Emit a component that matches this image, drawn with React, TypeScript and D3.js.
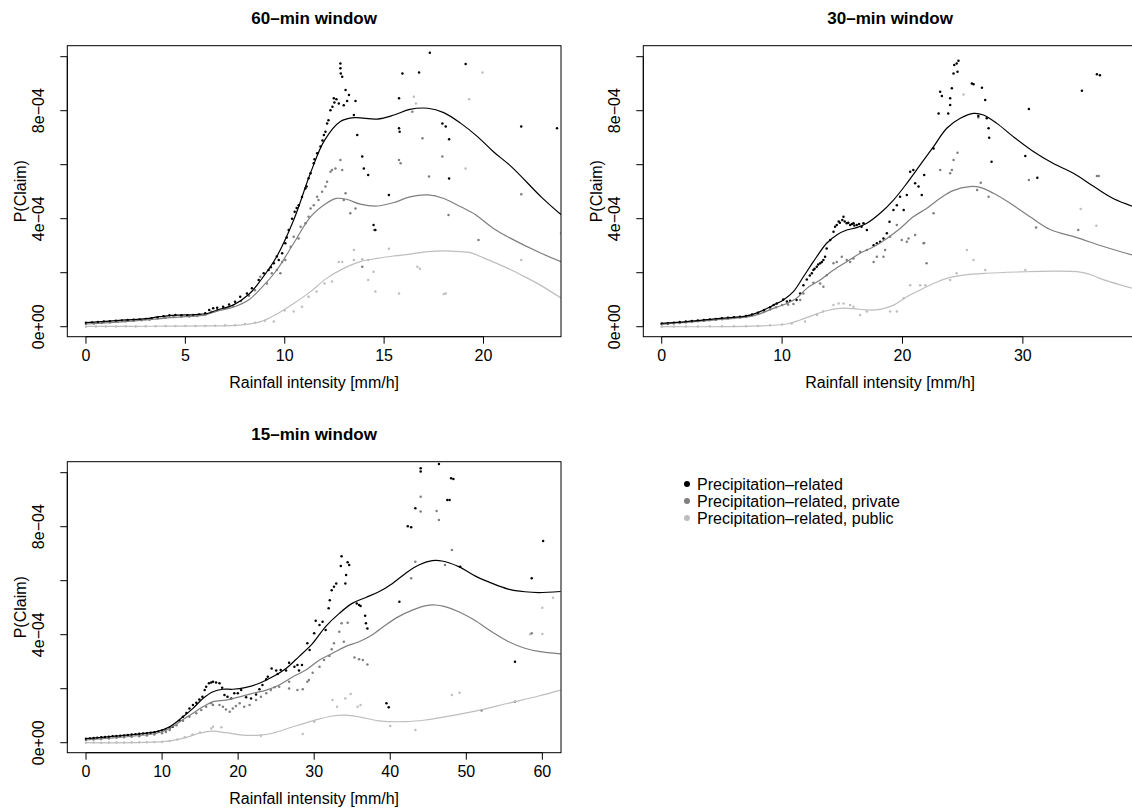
import * as d3 from 'd3';

// values in units of 1e-4 (P(Claim)), x in mm/h
const seriesNames = ['Precipitation–related', 'Precipitation–related, private', 'Precipitation–related, public'];
const seriesColors = ['#000000', '#7f7f7f', '#bebebe'];
const yTickValues = [0, 2, 4, 6, 8, 10];
const yTickLabels = ['0e+00', '', '4e−04', '', '8e−04', ''];

// ---- 60-min window ----
const pts60Total = [
  [0, 0.15], [0.3, 0.16], [0.6, 0.17], [0.9, 0.19], [1.2, 0.2], [1.5, 0.22], [1.8, 0.23], [2.1, 0.25], [2.4, 0.26], [2.7, 0.27],
  [3.0, 0.29], [3.3, 0.31], [3.6, 0.34], [3.9, 0.39], [4.2, 0.42], [4.5, 0.43], [4.8, 0.42], [5.1, 0.42], [5.4, 0.43], [5.7, 0.45],
  [6.0, 0.5], [6.2, 0.62], [6.4, 0.68], [6.6, 0.7], [6.9, 0.74], [7.2, 0.82], [7.5, 0.92], [7.76, 1.11], [8.1, 1.23], [8.35, 1.42],
  [8.69, 1.73], [8.94, 1.98], [9.19, 2.1], [9.3, 2.2], [9.45, 2.35], [9.6, 2.6], [9.7, 2.47], [9.87, 2.72], [10.03, 3.09], [10.1, 3.3],
  [10.2, 3.58], [10.37, 4.0], [10.5, 4.26], [10.6, 4.4], [10.7, 4.5], [10.87, 4.8], [11.04, 5.12], [11.1, 5.19], [11.2, 5.5], [11.3, 5.68],
  [11.46, 6.05], [11.5, 6.2], [11.63, 6.42], [11.8, 6.67], [11.9, 6.9], [11.97, 7.1], [12.05, 7.22], [12.13, 7.53], [12.2, 7.65], [12.3, 8.02],
  [12.4, 8.15], [12.47, 8.46], [12.5, 8.3], [12.6, 8.42], [12.72, 8.27], [12.8, 9.75], [12.8, 9.57], [12.82, 9.38], [12.89, 9.26], [12.97, 8.2],
  [13.06, 8.77], [13.14, 8.36], [13.23, 8.58], [13.48, 7.84], [13.56, 8.36], [13.65, 7.1], [13.9, 6.3], [13.98, 5.86], [14.2, 5.62], [14.47, 3.77],
  [14.56, 3.58], [15.24, 4.88], [15.75, 8.46], [15.75, 7.35], [15.78, 7.22], [15.92, 9.38], [16.76, 9.41], [17.3, 10.15], [17.93, 7.53], [18.1, 7.41],
  [18.27, 6.94], [18.27, 5.49], [19.1, 9.73], [21.9, 7.41], [23.7, 7.35],
];
const pts60Private = [
  [0, 0.1], [0.4, 0.12], [0.8, 0.14], [1.2, 0.16], [1.6, 0.18], [2.0, 0.2], [2.4, 0.22], [2.8, 0.24], [3.2, 0.26], [3.6, 0.3],
  [4.0, 0.33], [4.4, 0.36], [4.8, 0.37], [5.2, 0.38], [5.6, 0.4], [6.0, 0.45], [6.3, 0.55], [6.6, 0.62], [7.0, 0.68], [7.4, 0.78],
  [7.8, 0.95], [8.2, 1.15], [8.5, 1.35], [8.77, 1.85], [9.1, 1.6], [9.35, 1.98], [9.6, 2.1], [9.78, 1.98], [9.87, 2.4], [10.03, 2.47],
  [10.3, 2.96], [10.45, 3.33], [10.7, 3.27], [10.8, 3.7], [11.04, 3.83], [11.2, 4.07], [11.3, 4.38], [11.46, 4.5], [11.63, 4.81], [11.7, 4.69],
  [11.88, 5.0], [12.05, 5.19], [12.13, 5.37], [12.3, 5.74], [12.38, 5.8], [12.55, 5.86], [12.8, 6.17], [12.89, 5.8], [12.97, 4.69], [13.06, 4.94],
  [13.3, 4.2], [13.56, 4.38], [13.9, 2.22], [14.5, 3.58], [15.75, 6.17], [15.83, 6.05], [16.42, 7.96], [16.93, 6.98], [17.26, 5.56], [17.93, 6.3],
  [18.24, 4.14], [19.75, 3.21], [21.9, 4.91],
];
const pts60Public = [
  [0, 0.0], [0.5, 0.01], [1.0, 0.01], [1.5, 0.01], [2.0, 0.02], [2.5, 0.01], [3.0, 0.02], [3.5, 0.02], [4.0, 0.03], [4.5, 0.03],
  [5.0, 0.03], [5.5, 0.03], [6.0, 0.03], [6.5, 0.04], [7.0, 0.05], [7.5, 0.05], [8.0, 0.1], [8.5, 0.15], [9.0, 0.22], [9.45, 0.19],
  [10.0, 0.6], [10.45, 0.56], [10.87, 0.74], [11.2, 1.11], [11.6, 1.3], [12.0, 1.6], [12.38, 1.67], [12.72, 2.4], [12.89, 2.4], [13.48, 2.84],
  [13.48, 2.47], [13.9, 2.5], [14.2, 2.47], [14.47, 2.04], [14.2, 1.73], [14.56, 1.3], [15.24, 2.89], [15.75, 1.23], [16.5, 8.52], [16.6, 8.27],
  [16.67, 2.22], [16.8, 2.15], [18.0, 1.21], [18.1, 1.23], [19.1, 5.86], [19.28, 8.42], [19.95, 9.41], [21.9, 2.47], [23.9, 3.46],
];
const fit60Total = [
  [0, 0.15], [1, 0.2], [2, 0.25], [3, 0.3], [3.7, 0.37], [4.5, 0.43], [5.5, 0.45], [6.1, 0.49], [6.6, 0.62], [7.4, 0.8],
  [8.2, 1.2], [8.8, 1.73], [9.6, 2.6], [10.45, 3.95], [11.3, 5.7], [12.0, 6.9], [12.8, 7.6], [13.5, 7.74], [14.65, 7.69], [15.5, 7.84],
  [16.3, 8.05], [17.2, 8.09], [18.0, 7.93], [18.86, 7.53], [19.7, 7.04], [20.5, 6.48], [21.4, 5.93], [22.9, 4.81], [23.9, 4.15],
];
const fit60Private = [
  [0, 0.1], [1, 0.14], [2, 0.19], [3, 0.25], [4, 0.32], [5, 0.37], [6, 0.44], [6.6, 0.58], [7.4, 0.72], [8.2, 1.0],
  [8.8, 1.42], [9.6, 2.1], [10.45, 3.09], [11.3, 4.07], [12.1, 4.57], [12.6, 4.75], [13.1, 4.72], [13.8, 4.54], [14.65, 4.47], [15.5, 4.6],
  [16.3, 4.81], [17.2, 4.88], [18.0, 4.75], [18.86, 4.44], [19.6, 4.15], [20.5, 3.64], [21.3, 3.3], [22.9, 2.72], [23.9, 2.41],
];
const fit60Public = [
  [0, 0.01], [2, 0.01], [4, 0.02], [6, 0.03], [7.76, 0.06], [8.8, 0.19], [9.6, 0.47], [10.45, 0.86], [11.3, 1.3], [12.1, 1.79],
  [12.97, 2.16], [13.8, 2.41], [14.65, 2.53], [15.5, 2.62], [16.4, 2.7], [17.2, 2.78], [18.0, 2.81], [18.86, 2.78], [19.3, 2.75], [20.0, 2.55],
  [21.2, 2.17], [22.0, 1.88], [22.86, 1.54], [23.9, 1.06],
];

// ---- 30-min window ----
const pts30Total = [
  [0, 0.12], [0.5, 0.13], [1.0, 0.15], [1.5, 0.17], [2.0, 0.19], [2.5, 0.21], [3.0, 0.23], [3.5, 0.25], [4.0, 0.27], [4.5, 0.29],
  [5.0, 0.31], [5.5, 0.33], [6.0, 0.35], [6.5, 0.37], [7.0, 0.4], [7.5, 0.45], [8.0, 0.52], [8.5, 0.62], [9.0, 0.72], [9.3, 0.8],
  [9.56, 0.86], [10.1, 1.01], [10.4, 0.93], [10.66, 0.96], [11.2, 0.99], [11.5, 1.23], [11.77, 1.54], [12.05, 1.75], [12.3, 1.9], [12.47, 1.98],
  [12.6, 2.1], [12.7, 2.15], [12.88, 2.22], [13.0, 2.3], [13.16, 2.35], [13.3, 2.4], [13.43, 2.47], [13.57, 2.59], [13.7, 2.9], [14.0, 3.21],
  [14.27, 3.52], [14.4, 3.7], [14.54, 3.77], [14.7, 3.9], [14.8, 3.85], [15.0, 3.95], [15.1, 4.07], [15.2, 3.9], [15.37, 3.83], [15.5, 3.85],
  [15.65, 3.77], [15.8, 3.8], [15.93, 3.83], [16.0, 3.75], [16.2, 3.77], [16.4, 3.8], [16.6, 3.7], [16.76, 3.83], [17.04, 3.58], [17.6, 3.02],
  [17.87, 3.09], [18.14, 3.15], [18.42, 3.27], [18.7, 3.46], [18.92, 3.89], [19.25, 4.32], [19.53, 4.5], [19.8, 4.81], [20.1, 4.32], [20.36, 4.88],
  [20.64, 5.74], [20.9, 5.8], [21.05, 5.31], [21.33, 5.19], [21.6, 4.88], [21.8, 5.62], [22.58, 6.6], [23.0, 7.9], [23.13, 8.7], [23.27, 8.54],
  [23.8, 7.9], [23.96, 8.46], [23.96, 8.21], [24.1, 8.83], [24.24, 9.38], [24.3, 9.69], [24.5, 9.75], [24.65, 9.85], [24.57, 9.44], [25.76, 9.01],
  [25.9, 8.98], [26.6, 8.85], [26.87, 8.4], [26.3, 7.8], [27.0, 7.72], [27.15, 7.35], [27.2, 7.0], [27.4, 6.11], [30.2, 6.32], [30.5, 8.06],
  [31.2, 5.52], [34.9, 8.74], [36.15, 9.35], [36.4, 9.31],
];
const pts30Private = [
  [0, 0.09], [0.5, 0.1], [1.0, 0.12], [1.5, 0.14], [2.0, 0.16], [2.5, 0.18], [3.0, 0.2], [3.5, 0.22], [4.0, 0.24], [4.5, 0.26],
  [5.0, 0.28], [5.5, 0.3], [6.0, 0.32], [6.5, 0.34], [7.0, 0.37], [7.5, 0.42], [8.0, 0.48], [8.5, 0.56], [9.0, 0.64], [9.5, 0.72],
  [10.0, 0.8], [10.5, 0.82], [10.94, 0.84], [11.5, 0.99], [11.77, 1.23], [12.6, 1.63], [13.16, 1.6], [13.43, 1.48], [13.7, 1.91], [14.27, 2.35],
  [14.54, 2.4], [14.96, 2.59], [15.37, 2.47], [15.65, 2.4], [15.93, 2.53], [16.48, 2.78], [17.04, 2.84], [17.6, 2.4], [17.87, 2.59], [18.42, 2.59],
  [18.56, 2.84], [18.97, 3.33], [19.53, 3.77], [19.94, 3.21], [20.36, 3.15], [20.5, 3.27], [21.05, 3.4], [21.75, 3.09], [22.0, 2.35], [21.8, 3.1],
  [22.58, 4.2], [23.13, 5.8], [23.96, 5.68], [24.1, 5.8], [24.24, 6.17], [24.57, 6.44], [26.3, 7.75], [26.5, 5.33], [26.2, 5.06], [27.15, 4.81],
  [30.5, 5.43], [31.1, 3.67], [34.6, 3.58], [36.15, 5.58], [36.3, 5.58],
];
const pts30Public = [
  [0, 0.0], [1, 0.01], [2, 0.01], [3, 0.01], [4, 0.02], [5, 0.02], [6, 0.02], [7, 0.02], [8, 0.03], [9, 0.05],
  [10, 0.08], [10.8, 0.12], [11.9, 0.19], [12.9, 0.43], [13.4, 0.56], [14.27, 0.8], [14.7, 0.86], [15.1, 0.86], [15.65, 0.8], [15.93, 0.74],
  [16.48, 0.43], [17.04, 0.56], [18.97, 0.56], [19.53, 0.56], [20.1, 1.05], [20.64, 1.54], [21.47, 1.54], [21.9, 1.54], [23.96, 1.73], [24.5, 1.98],
  [25.07, 8.6], [25.35, 2.84], [25.9, 2.47], [26.87, 2.1], [30.2, 2.1], [34.8, 4.36], [36.1, 3.74],
];
const fit30Total = [
  [0, 0.12], [2.08, 0.19], [4.85, 0.31], [7.06, 0.4], [8.17, 0.56], [9.28, 0.8], [10.1, 0.99], [10.94, 1.3], [11.77, 1.85], [12.6, 2.41],
  [13.7, 3.09], [14.54, 3.4], [15.37, 3.58], [16.2, 3.67], [17.04, 3.83], [18.14, 4.2], [19.25, 4.69], [20.36, 5.31], [21.47, 5.99], [22.58, 6.67],
  [23.68, 7.35], [24.8, 7.72], [25.9, 7.9], [26.73, 7.84], [27.84, 7.53], [29.2, 7.04], [30.9, 6.48], [32.5, 6.05], [34.2, 5.68], [35.9, 5.19],
  [37.5, 4.75], [39.5, 4.4],
];
const fit30Private = [
  [0, 0.09], [4.85, 0.27], [7.6, 0.4], [9.28, 0.68], [10.4, 0.86], [11.2, 1.05], [12.05, 1.42], [13.16, 1.73], [14.27, 2.1], [15.37, 2.41],
  [16.48, 2.72], [17.6, 2.96], [18.7, 3.27], [19.8, 3.64], [20.9, 4.07], [22.0, 4.38], [23.1, 4.75], [24.2, 5.04], [25.6, 5.19], [26.45, 5.16],
  [27.56, 4.94], [28.95, 4.57], [30.6, 4.07], [32.27, 3.6], [34.5, 3.3], [36.5, 3.0], [39.5, 2.6],
];
const fit30Public = [
  [0, 0.0], [7.6, 0.02], [10.4, 0.1], [11.5, 0.25], [12.6, 0.43], [13.7, 0.59], [14.8, 0.68], [15.9, 0.67], [17.0, 0.62], [18.14, 0.64],
  [19.25, 0.8], [20.36, 1.11], [21.47, 1.36], [22.58, 1.6], [23.68, 1.79], [25.07, 1.91], [27.0, 1.98], [29.8, 2.03], [32.5, 2.06], [34.5, 2.04],
  [35.5, 1.95], [36.4, 1.79], [38.1, 1.55], [39.5, 1.38],
];

// ---- 15-min window ----
const pts15Total = [
  [0, 0.15], [0.5, 0.16], [1, 0.17], [1.5, 0.18], [2, 0.2], [2.5, 0.21], [3, 0.22], [3.5, 0.24], [4, 0.25], [4.5, 0.26],
  [5, 0.27], [5.5, 0.29], [6, 0.3], [6.5, 0.31], [7, 0.33], [7.5, 0.34], [8, 0.35], [8.5, 0.37], [9, 0.39], [9.5, 0.41],
  [10, 0.45], [10.5, 0.5], [11, 0.55], [11.4, 0.59], [12.3, 0.81], [12.75, 0.96], [13.2, 1.1], [13.6, 1.27], [14.06, 1.4], [14.5, 1.48],
  [14.9, 1.6], [15.3, 1.7], [15.6, 1.95], [15.8, 2.07], [16.16, 2.2], [16.46, 2.23], [16.7, 2.26], [17.1, 2.23], [17.55, 2.2], [17.9, 2.04],
  [18.2, 1.77], [18.6, 1.7], [19.1, 1.64], [19.5, 1.83], [19.96, 1.83], [20.4, 1.95], [21.05, 1.68], [21.7, 1.64], [22.36, 1.79], [22.8, 1.98],
  [23.2, 2.14], [23.7, 2.35], [23.9, 2.44], [24.4, 2.75], [25.0, 2.67], [25.2, 2.54], [25.6, 2.69], [26.3, 2.67], [26.7, 2.96], [27.4, 2.81],
  [27.8, 2.88], [28.4, 2.88], [28.0, 2.67], [29.1, 3.68], [29.4, 3.43], [30.0, 4.05], [30.2, 4.52], [30.7, 4.36], [31.1, 4.48], [31.5, 4.17],
  [31.9, 4.98], [32.05, 5.28], [32.3, 5.65], [32.6, 5.78], [32.9, 5.9], [33.5, 6.54], [33.6, 6.91], [34.1, 5.9], [34.2, 6.21], [34.4, 6.68],
  [34.6, 6.58], [35.6, 5.16], [35.9, 5.1], [36.1, 5.06], [36.7, 4.7], [36.8, 4.42], [37.0, 4.23], [39.5, 1.46], [39.8, 1.31], [41.2, 5.22],
  [42.3, 8.02], [42.75, 7.98], [43.3, 8.68], [44.0, 10.16], [44.0, 10.04], [46.4, 10.32], [47.5, 8.99], [47.8, 8.99], [48.0, 9.79], [48.3, 9.77],
  [49.2, 6.52], [56.4, 3.0], [58.6, 6.09], [60.1, 7.47],
];
const pts15Private = [
  [0, 0.1], [1, 0.12], [2, 0.14], [3, 0.16], [4, 0.18], [5, 0.2], [6, 0.22], [7, 0.24], [8, 0.27], [9, 0.3],
  [10, 0.35], [10.5, 0.4], [11.0, 0.47], [11.9, 0.65], [12.75, 0.81], [13.6, 0.96], [14.5, 1.09], [15.15, 1.21], [15.8, 1.33], [16.46, 1.46],
  [16.7, 1.4], [17.55, 1.4], [18.0, 1.33], [18.4, 1.23], [18.9, 1.15], [19.3, 1.27], [19.7, 1.36], [20.2, 1.46], [20.8, 1.33], [21.5, 1.4],
  [22.36, 1.58], [23.0, 1.7], [23.7, 1.83], [24.3, 1.95], [24.8, 2.05], [25.4, 2.07], [26.7, 2.26], [26.7, 2.01], [27.8, 1.95], [28.5, 1.98],
  [29.1, 2.26], [29.3, 2.32], [29.8, 2.59], [30.7, 2.81], [31.3, 3.06], [32.0, 3.21], [32.3, 3.46], [32.6, 3.68], [33.3, 4.11], [33.6, 4.42],
  [33.9, 3.74], [34.4, 4.44], [35.3, 3.16], [35.9, 3.09], [36.4, 3.06], [37.0, 2.9], [42.75, 6.09], [43.3, 6.7], [44.0, 9.11], [44.0, 8.56],
  [46.1, 8.58], [46.4, 8.25], [48.1, 7.14], [47.2, 6.58], [52.0, 1.19], [56.4, 1.52], [58.6, 4.05],
];
const pts15Public = [
  [0, 0.0], [1, 0.01], [2, 0.0], [3, 0.01], [4, 0.01], [5, 0.01], [6, 0.02], [7, 0.02], [8, 0.02], [9, 0.03],
  [10, 0.04], [11, 0.06], [12, 0.12], [13, 0.2], [14, 0.3], [15, 0.38], [16.46, 0.53], [16.7, 0.59], [17.8, 0.57], [23.0, 0.26],
  [28.5, 0.32], [30.0, 0.78], [32.4, 1.58], [33.0, 1.33], [34.1, 1.64], [34.8, 1.8], [35.7, 1.33], [36.1, 1.4], [40.0, 0.62], [43.3, 0.47],
  [48.1, 1.77], [49.1, 1.85], [58.4, 4.02], [60.0, 5.0], [61.4, 5.37], [60.0, 4.03],
];
const fit15Total = [
  [0, 0.15], [5.3, 0.28], [9.26, 0.41], [11.0, 0.59], [12.75, 0.96], [14.06, 1.27], [15.37, 1.64], [16.7, 1.89], [18.0, 1.98], [19.3, 1.98],
  [21.05, 2.05], [22.8, 2.2], [24.54, 2.44], [26.3, 2.75], [28.0, 3.19], [29.8, 3.68], [31.5, 4.3], [33.3, 4.79], [35.0, 5.16], [36.8, 5.38],
  [38.5, 5.59], [40.3, 5.9], [42.0, 6.27], [43.75, 6.58], [45.5, 6.74], [46.8, 6.73], [49.0, 6.52], [51.2, 6.17], [53.4, 5.9], [55.5, 5.69],
  [57.7, 5.59], [59.5, 5.56], [62.4, 5.6],
];
const fit15Private = [
  [0, 0.1], [5.3, 0.22], [9.26, 0.35], [11.0, 0.53], [12.75, 0.86], [14.06, 1.09], [15.37, 1.33], [16.7, 1.52], [18.4, 1.58], [20.2, 1.7],
  [21.9, 1.83], [23.7, 1.95], [25.4, 2.14], [27.2, 2.44], [28.9, 2.69], [30.7, 3.06], [32.4, 3.31], [34.1, 3.56], [35.9, 3.74], [37.6, 3.99],
  [39.4, 4.36], [41.1, 4.67], [42.9, 4.91], [44.6, 5.07], [45.9, 5.1], [47.2, 5.04], [49.0, 4.85], [51.0, 4.55], [53.4, 4.1], [55.5, 3.75],
  [57.7, 3.5], [59.5, 3.38], [62.4, 3.29],
];
const fit15Public = [
  [0, 0.0], [7.5, 0.01], [11.0, 0.07], [13.2, 0.2], [14.9, 0.35], [16.7, 0.43], [18.4, 0.37], [20.6, 0.28], [22.8, 0.28], [24.5, 0.35],
  [27.2, 0.59], [29.8, 0.81], [32.4, 0.99], [34.1, 1.02], [35.9, 0.96], [38.5, 0.81], [42.0, 0.78], [44.6, 0.84], [47.2, 0.96], [51.2, 1.17],
  [55.5, 1.46], [59.5, 1.73], [62.4, 1.95],
];

const FONT = "'Liberation Sans', Arial, Helvetica, sans-serif";
const W = 1132, H = 812;

const panels = [
  {
    id: 'p60', title: '60–min window', left: 67.3, right: 561, top: 45.7, bottom: 336.7,
    xDomain: [-0.94, 23.9], xTicks: [0, 5, 10, 15, 20],
    points: [pts60Total, pts60Private, pts60Public], fits: [fit60Total, fit60Private, fit60Public],
  },
  {
    id: 'p30', title: '30–min window', left: 643.3, right: 1137, top: 45.7, bottom: 336.7,
    xDomain: [-1.53, 39.48], xTicks: [0, 10, 20, 30],
    points: [pts30Total, pts30Private, pts30Public], fits: [fit30Total, fit30Private, fit30Public],
  },
  {
    id: 'p15', title: '15–min window', left: 67.3, right: 561, top: 461.7, bottom: 752.7,
    xDomain: [-2.46, 62.45], xTicks: [0, 10, 20, 30, 40, 50, 60],
    points: [pts15Total, pts15Private, pts15Public], fits: [fit15Total, fit15Private, fit15Public],
  },
];

const Panel = ({ p }: { p: any }) => {
  const x = d3.scaleLinear().domain(p.xDomain).range([p.left, p.right]);
  const y = d3.scaleLinear().domain([-0.37, 10.407]).range([p.bottom, p.top]);
  const line = d3.line<number[]>().x((d) => x(d[0])).y((d) => y(d[1])).curve(d3.curveCatmullRom.alpha(0.5));
  const xFirst = x(p.xTicks[0]), xLast = x(p.xTicks[p.xTicks.length - 1]);
  const cx = (p.left + p.right) / 2;
  return (
    <g>
      <defs>
        <clipPath id={`clip-${p.id}`}>
          <rect x={p.left} y={p.top} width={p.right - p.left} height={p.bottom - p.top} />
        </clipPath>
      </defs>
      <g clipPath={`url(#clip-${p.id})`}>
        {[2, 1, 0].map((s) =>
          p.points[s].map((d: number[], i: number) => (
            <circle key={`${s}-${i}`} cx={x(d[0])} cy={y(d[1])} r={1.25} fill={seriesColors[s]} />
          ))
        )}
        {[2, 1, 0].map((s) => (
          <path key={s} d={line(p.fits[s]) || ''} fill="none" stroke={seriesColors[s]} strokeWidth={1.2} />
        ))}
      </g>
      <rect x={p.left} y={p.top} width={p.right - p.left} height={p.bottom - p.top} fill="none" stroke="#000" strokeWidth={1} />
      {/* x axis */}
      <line x1={xFirst} x2={xLast} y1={p.bottom} y2={p.bottom} stroke="#000" />
      {p.xTicks.map((t: number) => (
        <g key={t}>
          <line x1={x(t)} x2={x(t)} y1={p.bottom} y2={p.bottom + 7} stroke="#000" />
          <text x={x(t)} y={p.bottom + 19} dy="0.35em" textAnchor="middle" fontSize={16}>{t}</text>
        </g>
      ))}
      {/* y axis */}
      <line x1={p.left} x2={p.left} y1={y(0)} y2={y(10)} stroke="#000" />
      {yTickValues.map((t, i) => (
        <g key={t}>
          <line x1={p.left - 7} x2={p.left} y1={y(t)} y2={y(t)} stroke="#000" />
          {yTickLabels[i] && (
            <text transform={`translate(${p.left - 29},${y(t)}) rotate(-90)`} dy="0.35em" textAnchor="middle" fontSize={16}>
              {yTickLabels[i]}
            </text>
          )}
        </g>
      ))}
      <text x={cx} y={p.top - 28} dy="0.35em" textAnchor="middle" fontSize={17} fontWeight="bold">{p.title}</text>
      <text x={cx} y={p.bottom + 46} dy="0.35em" textAnchor="middle" fontSize={16}>Rainfall intensity [mm/h]</text>
      <text transform={`translate(${p.left - 47},${(p.top + p.bottom) / 2}) rotate(-90)`} dy="0.35em" textAnchor="middle" fontSize={16}>
        P(Claim)
      </text>
    </g>
  );
};

const legendRows = [484, 501, 518];

export default function App() {
  return (
    <svg width={W} height={H} style={{ position: 'absolute', left: 0, top: 0, background: '#fff' }} fontFamily={FONT}>
      <rect width={W} height={H} fill="#fff" />
      {panels.map((p) => <Panel key={p.id} p={p} />)}
      {seriesNames.map((name, i) => (
        <g key={name}>
          <circle cx={687} cy={legendRows[i]} r={3} fill={seriesColors[i]} />
          <text x={697} y={legendRows[i]} dy="0.35em" fontSize={16}>{name}</text>
        </g>
      ))}
    </svg>
  );
}
